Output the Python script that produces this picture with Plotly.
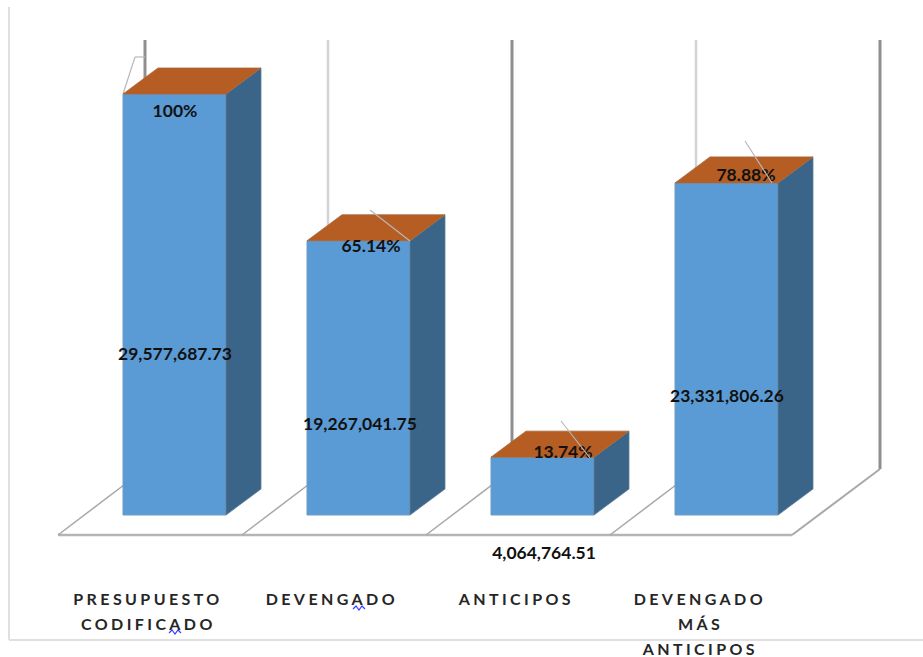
import plotly.graph_objects as go

# ---------- data ----------
categories = ["PRESUPUESTO CODIFICADO", "DEVENGADO", "ANTICIPOS", "DEVENGADO MÁS ANTICIPOS"]
category_lines = [["PRESUPUESTO", "CODIFICADO"], ["DEVENGADO"], ["ANTICIPOS"], ["DEVENGADO", "MÁS", "ANTICIPOS"]]
values = [29577687.73, 19267041.75, 4064764.51, 23331806.26]
percent_labels = ["100%", "65.14%", "13.74%", "78.88%"]

# ---------- layout geometry ----------
W, H = 923, 657
BOTTOM = 77
PLOT_H = H - BOTTOM
BAR_CX, STEP = 174.5, 184.0
BASE_PX = 515.0
PX_PER_UNIT = 421.0 / values[0]
BAR_W = 103.0 / STEP
DX, DY = 35.0 / STEP, 26.0 / PX_PER_UNIT


def fx(px):
    return (px - BAR_CX) / STEP


def fy(py):
    return (BASE_PX - py) / PX_PER_UNIT


def py_paper(py):
    return (H - BOTTOM - py) / PLOT_H


BLUE, SIDE, TOP = "#5B9BD5", "#3A6588", "#B55D22"
xs = list(range(len(values)))
fig = go.Figure()

fig.add_trace(go.Bar(x=xs, y=values, width=BAR_W, marker=dict(color=BLUE, line=dict(color="#6f9cc4", width=1)),
                     customdata=categories, hovertemplate="%{customdata}<br>%{y:,.2f}<extra></extra>"))

for i, v in zip(xs, values):
    l, r = i - BAR_W / 2, i + BAR_W / 2
    fig.add_trace(go.Scatter(x=[r, r + DX, r + DX, r, r], y=[0, DY, v + DY, v, 0], mode="lines", fill="toself",
                             fillcolor=SIDE, line=dict(color="#5d7f9c", width=0.8), hoverinfo="skip"))
    fig.add_trace(go.Scatter(x=[l, r, r + DX, l + DX, l], y=[v, v, v + DY, v + DY, v], mode="lines", fill="toself",
                             fillcolor=TOP, line=dict(color="#a8673a", width=0.8), hoverinfo="skip"))

# value labels
value_y_px = [356, 426, 555, 398]
value_x_px = [175, 360, 544, 727]
fig.add_trace(go.Scatter(x=[fx(p) for p in value_x_px], y=[fy(p) for p in value_y_px], mode="text",
                         text=[f"{v:,.2f}" for v in values], textposition="middle center", hoverinfo="skip",
                         textfont=dict(family="Lato", size=17.5, color="#111111", weight="bold")))
pct_y_px = [113, 248, 454, 177]
pct_x_px = [175, 371, 563, 746]
fig.add_trace(go.Scatter(x=[fx(p) for p in pct_x_px], y=[fy(p) for p in pct_y_px], mode="text",
                         text=percent_labels, textposition="middle center", hoverinfo="skip",
                         textfont=dict(family="Lato", size=17.5, color="#111111", weight="bold")))

shapes = []


def line(x0, y0, x1, y1, color, width, layer="below"):
    shapes.append(dict(type="line", xref="x", yref="y", x0=fx(x0), y0=fy(y0), x1=fx(x1), y1=fy(y1),
                       line=dict(color=color, width=width), layer=layer))


# walls
for k, (x, col, wd) in enumerate([(145, "#8f8f8f", 3), (328, "#d2d2d2", 2.5), (512, "#8f8f8f", 3),
                                  (696, "#d2d2d2", 2.5), (880, "#8f8f8f", 3)]):
    line(x, 40, x, 469, col, wd)
# floor
line(58, 535, 792, 535, "#b5b5b5", 2.5)
for x in (58, 242, 426, 610):
    line(x, 535, x + 87, 469, "#a8a8a8", 1.5)
line(792, 535, 880, 469, "#a8a8a8", 2)

# leader lines
lead = "#b8b8b8"
line(123, 94, 135, 57, lead, 1.2)
line(135, 57, 145, 57, lead, 1.2)
line(370, 210, 410, 241, lead, 1.2, "above")
line(561, 421, 590, 458, lead, 1.2, "above")
line(745, 141, 772, 183, lead, 1.2, "above")

# frame (left and bottom)
frame = "#e0e0e0"
for (a, b, c, d) in [(9, 7, 9, 640), (9, 640, 923, 640)]:
    shapes.append(dict(type="line", xref="paper", yref="paper", x0=a / W, y0=py_paper(b), x1=c / W, y1=py_paper(d),
                       line=dict(color=frame, width=2), layer="below"))


# spell-check squiggles
def squiggle(x, y):
    pts = [(x, y + 1), (x + 3, y - 2), (x + 6, y + 2), (x + 9, y - 2), (x + 12, y + 1)]
    path = "M " + " L ".join(f"{p[0] / W},{py_paper(p[1])}" for p in pts)
    shapes.append(dict(type="path", xref="paper", yref="paper", path=path, line=dict(color="#3a3aff", width=1.2)))


squiggle(169, 632)
squiggle(353, 608)

# category labels
LABEL_CX = [148, 332, 516, 700]
LABEL_Y = [599, 623, 648]
annotations = []
for cx, lines in zip(LABEL_CX, category_lines):
    for ly, txt in zip(LABEL_Y, lines):
        annotations.append(dict(x=cx / W, y=py_paper(ly), xref="paper", yref="paper", text=txt, showarrow=False,
                                xanchor="center", yanchor="middle", captureevents=False,
                                font=dict(family="Lato", size=16, color="#262626", weight="bold")))

fig.update_layout(
    width=W, height=H, margin=dict(l=0, r=0, t=0, b=BOTTOM), showlegend=False,
    paper_bgcolor="white", plot_bgcolor="rgba(0,0,0,0)", shapes=shapes, annotations=annotations,
    xaxis=dict(visible=False, range=[fx(0), fx(W)], fixedrange=True),
    yaxis=dict(visible=False, range=[fy(PLOT_H), fy(0)], fixedrange=True),
)

post = """
var s=document.createElement('style');
s.textContent='body{margin:0;overflow:hidden}.annotation-text{letter-spacing:3.4px}';
document.head.appendChild(s);
"""
fig.write_html("out.html", post_script=post, config={"displayModeBar": False})
